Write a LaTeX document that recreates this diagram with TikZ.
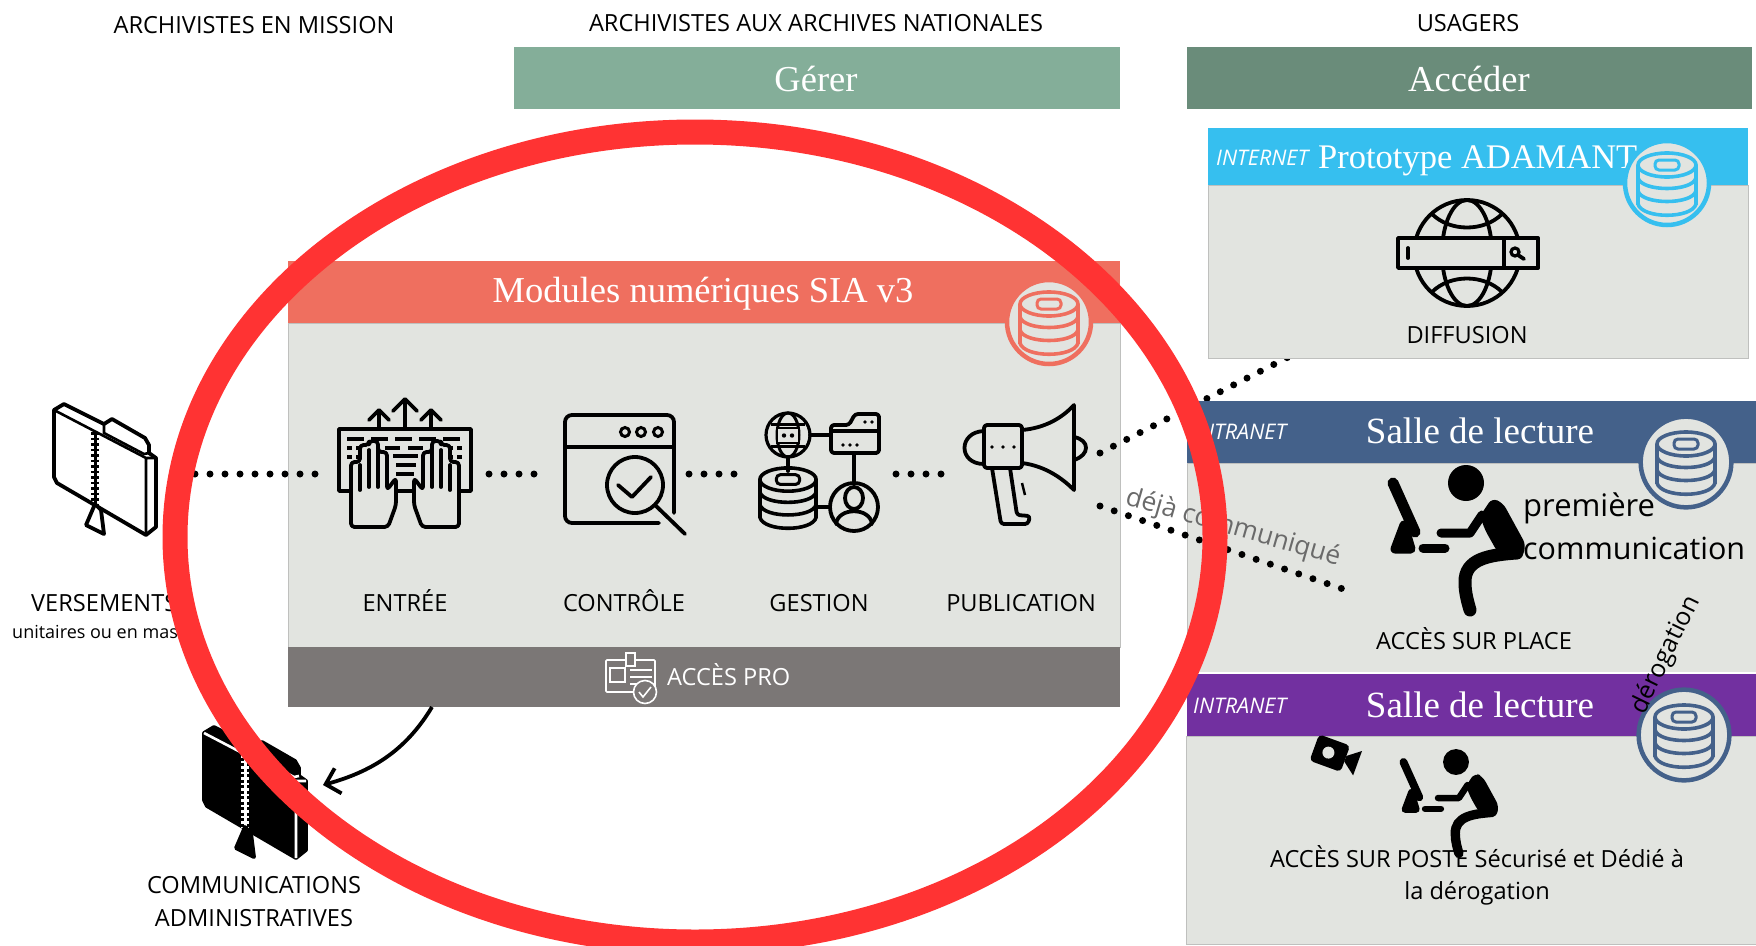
\documentclass[tikz,border=0pt]{standalone}
\usepackage{fontspec}
\setmainfont{Open Sans}
\newfontfamily\titlefont{Liberation Serif}
\usetikzlibrary{arrows.meta}

\definecolor{panelgray}{HTML}{E2E4E0}
\definecolor{panelline}{HTML}{BFC0BE}
\definecolor{gerergreen}{HTML}{84AE99}
\definecolor{accedergreen}{HTML}{6A8C7A}
\definecolor{salmon}{HTML}{EF6F5F}
\definecolor{skyband}{HTML}{36BFEF}
\definecolor{slateband}{HTML}{44618A}
\definecolor{purpleband}{HTML}{7230A0}
\definecolor{proband}{HTML}{7B7776}
\definecolor{ringred}{HTML}{FF3333}
\definecolor{notegray}{HTML}{6A6A6A}

\def\fsize#1{\fontsize{#1}{#1}\selectfont}

\tikzset{
    label/.style={inner sep=0pt, text=black, font=\fsize{23.6}, text height=17pt, text depth=0pt},
    title/.style={inner sep=0pt, text=white, font=\titlefont\fsize{36.5}},
    zone/.style={inner sep=0pt, text=white, font=\itshape\fsize{21.5}},
    icon/.style={line width=3.8pt, line join=round, line cap=round},
    dots/.style={line width=7pt, line cap=round, dash pattern=on 0pt off 15pt},
    pics/dbstack/.style={code={
        \draw[line width=3.6pt, #1, rounded corners=1pt] (-29,-18) -- (-29,22) (29,-18) -- (29,22);
        \draw[line width=3.6pt, #1] (0,-18) ellipse [x radius=29, y radius=12];
        \draw[line width=3pt, #1, rounded corners=4pt] (-12,-23) rectangle (12,-13);
        \draw[line width=3.6pt, #1] (-29,-5) .. controls (-25,9) and (25,9) .. (29,-5);
        \draw[line width=3.6pt, #1] (-29,8) .. controls (-25,22) and (25,22) .. (29,8);
        \draw[line width=3.6pt, #1] (-29,21) .. controls (-25,36) and (25,36) .. (29,21);
    }},
    pics/dbbadge/.style={code={
        \draw[line width=4.5pt, #1, fill=panelgray] (0,0) circle [radius=42];
        \pic {dbstack=#1};
    }},
    pics/zipfolder/.style 2 args={code={
        \draw[icon, fill=#1] (-46,-60) -- (-36,-66) -- (4,-46) -- (12,-51) -- (45,-32) -- (49,-25) -- (49,-17) -- (56,-12) -- (56,57) -- (46,65) -- (-43,13) -- (-46,7) -- cycle;
        \draw[#2, line width=2.6pt] (-46,-60) -- (46,-12) -- (46,65) (46,-12) -- (56,-12);
        \draw[#2, line width=2.6pt] (4,-46) -- (4,-37) -- (44,-16) -- (49,-17);
        \draw[#2, line width=3pt] (-5,-38) -- (-5,34);
        \draw[#2, line width=7.5pt, dash pattern=on 2.5pt off 3pt] (-5,-38) -- (-5,34);
        \draw[icon, fill=#1] (-5,34) -- (-14,55) -- (4,64) -- (1,40) -- cycle;
    }},
    pics/handicon/.style={code={
        \draw[icon, fill=panelgray, rounded corners=3.5pt] (-54,527) -- (-54,462) -- (-45,462) -- (-45,445) -- (-36,445) -- (-36,441) -- (-27,441) -- (-27,452) -- (-18,452) -- (-18,490) -- (-9,478) -- (-9,505) -- (-17,527) -- cycle;
        \draw[icon] (-45,465) -- (-45,490) (-36,450) -- (-36,487) (-27,450) -- (-27,487);
    }},
    pics/reader/.style={code={
        \begin{scope}[scale=#1]
            \fill (0,0) circle [radius=18];
            \draw[line width=#1*11pt, line cap=round] (-73,0) -- (-51,49);
            \draw[line width=#1*9pt, line cap=round, line join=round, fill=black] (-62,42) -- (-71,66) -- (-55,66) -- cycle;
            \draw[line width=#1*9pt, line cap=round] (-43,65) -- (-21,65);
            \draw[line width=#1*9pt, line cap=round, line join=round] (-25,50) -- (4,50) -- (16,32);
            \fill[rounded corners=6pt] (14,33) -- (26,15) -- (37,20) -- (60,62) -- (55,78) -- (32,70) -- (19,47) -- cycle;
            \draw[line width=#1*13pt, line cap=round] (50,70) .. controls (25,72) and (-2,75) .. (-1,100) .. controls (-1,110) and (2,120) .. (4,127);
        \end{scope}
    }}
}

\begin{document}
\begin{tikzpicture}[x=1pt, y=-1pt]
    \useasboundingbox (0,0) rectangle (1756,945);

    \node[label] (missionhead) at (254,25) {ARCHIVISTES EN MISSION};
    \node[label] (nationalhead) at (816,23) {ARCHIVISTES AUX ARCHIVES NATIONALES};
    \node[label] (usagershead) at (1468,23) {USAGERS};

    \fill[gerergreen] (514,47) rectangle (1120,109);
    \node[title] (gerer) at (816,79) {Gérer};
    \fill[accedergreen] (1187,47) rectangle (1752,109);
    \node[title] (acceder) at (1469,79) {Accéder};

    % modules
    \filldraw[panelgray, draw=panelline] (288,323) rectangle (1120,647);
    \fill[salmon] (288,261) rectangle (1120,323);
    \fill[proband] (288,647) rectangle (1120,707);
    \node[title] (modules) at (703,294) {Modules numériques SIA v3};
    \pic (dbmodules) at (1049,322) {dbbadge=salmon};

    % keyboard
    \draw[icon, fill=panelgray] (339,429) rectangle (471,491);
    \draw[icon] (405,429) -- (405,400) (393,411) -- (405,399) -- (417,411);
    \draw[icon] (379,429) -- (379,411) (369,420) -- (379,410) -- (389,420);
    \draw[icon] (431,429) -- (431,411) (421,420) -- (431,410) -- (441,420);
    \draw[line width=3.2pt, dash pattern=on 17pt off 7pt] (347,439) -- (463,439);
    \draw[line width=3.2pt, dash pattern=on 15pt off 8pt] (385,448) -- (425,448);
    \draw[line width=3.2pt, dash pattern=on 5pt off 4pt] (347,448) -- (362,448) (448,448) -- (463,448);
    \draw[line width=3.2pt, dash pattern=on 5pt off 4pt] (347,457) -- (362,457) (448,457) -- (463,457);
    \draw[line width=3.2pt] (393,456) -- (418,456) (396,465) -- (416,465) (396,474) -- (414,474);
    \pic (lefthand) at (405,0) {handicon};
    \pic[xscale=-1] (righthand) at (405,0) {handicon};

    % window
    \draw[icon, rounded corners=7pt] (659,523) -- (565,523) -- (565,415) -- (674,415) -- (674,513);
    \draw[icon] (565,447) -- (674,447);
    \foreach \x in {625,641,658}
        \draw[line width=3pt] (\x,432) circle [radius=4.5];
    \draw[icon, fill=panelgray] (635,485) circle [radius=28];
    \draw[icon] (655,505) -- (685,534);
    \draw[icon] (618,485) -- (632,497) -- (651,477);

    % gestion
    \draw[line width=3.2pt] (788,435) circle [radius=22];
    \draw[line width=3pt] (788,435) ellipse [x radius=11, y radius=22];
    \draw[line width=3pt] (771,424) -- (805,424) (771,446) -- (805,446);
    \fill[panelgray] (777,428) rectangle (799,443);
    \draw[line width=2.6pt] (777,428) rectangle (799,443);
    \foreach \x in {784,792}
        \fill (\x,435.5) circle [radius=2.2];
    \draw[icon, fill=panelgray, rounded corners=3pt] (831,453) -- (831,425) -- (849,425) -- (855,414) -- (879,414) -- (879,453) -- cycle;
    \draw[icon] (831,431) -- (879,431);
    \foreach \x in {843,850,857}
        \fill (\x,445) circle [radius=1.8];
    \foreach \x in {865,872}
        \fill (\x,422) circle [radius=1.8];
    \draw[icon] (810,435) -- (831,435) (788,457) -- (788,471) (854,453) -- (854,483) (817,507) -- (830,507);
    \pic[scale=0.97] (dbgestion) at (788,497) {dbstack=black};
    \draw[icon] (854,507) circle [radius=24];
    \draw[icon] (854,498) ellipse [x radius=9, y radius=11];
    \draw[icon] (836,524) .. controls (838,507) and (870,507) .. (872,524);

    % megaphone
    \draw[icon] (1074,437) .. controls (1090,440) and (1090,455) .. (1074,460);
    \draw[icon] (984,431) .. controls (958,432) and (958,464) .. (984,464);
    \draw[icon, fill=panelgray, rounded corners=3pt] (992,468) -- (1001,524) -- (1028,524) -- (1030,516) -- (1017,515) -- (1010,468);
    \draw[icon] (1022,430) .. controls (1045,428) and (1062,418) .. (1074,405) -- (1074,490) .. controls (1062,478) and (1045,466) .. (1022,463);
    \draw[icon, rounded corners=3pt] (984,425) rectangle (1022,468);
    \fill (992,447) circle [radius=1.8] (1003,447) circle [radius=1.8] (1014,447) circle [radius=1.8];
    \draw[line width=2.5pt] (1022,483) -- (1025,495);

    % dots inside
    \coordinate (versdots) at (195,474);
    \coordinate (entreeleft) at (316,474);
    \coordinate (entreeright) at (489,474);
    \coordinate (controleleft) at (535,474);
    \coordinate (controleright) at (689,474);
    \coordinate (gestionleft) at (735,474);
    \coordinate (gestionright) at (896,474);
    \coordinate (pubright) at (942,474);
    \draw[dots] (versdots) -- (entreeleft);
    \draw[dots] (entreeright) -- (controleleft);
    \draw[dots] (controleright) -- (gestionleft);
    \draw[dots] (gestionright) -- (pubright);

    \node[label] (entree) at (405,603) {ENTRÉE};
    \node[label] (controle) at (624,603) {CONTRÔLE};
    \node[label] (gestion) at (819,603) {GESTION};
    \node[label] (publication) at (1021,603) {PUBLICATION};

    % acces pro
    \draw[white, line width=1.6pt, rounded corners=1pt] (606,660) rectangle (655,692);
    \draw[white, line width=1.6pt, fill=proband] (626,653) rectangle (635,666);
    \draw[white, line width=1.4pt] (610,668) rectangle (625,682);
    \draw[white, line width=1.4pt] (630,670) -- (652,670) (630,677) -- (652,677) (630,684) -- (640,684);
    \draw[white, line width=1.6pt, fill=proband] (645,692) circle [radius=11.5];
    \draw[white, line width=1.6pt] (639,692) -- (643,697) -- (651,687);
    \node[label, text=white, anchor=west] (accespro) at (667,677) {ACCÈS PRO};

    % left
    \pic (versement) at (100,470) {zipfolder={white}{black}};
    \node[label, anchor=west] (versements) at (31,603) {VERSEMENTS};
    \node[inner sep=0pt, font=\fsize{18}, anchor=west] (unitaires) at (12,632) {unitaires ou en masse};
    \pic (communication) at (250,793) {zipfolder={black}{white}};
    \node[label] (commun) at (254,885) {COMMUNICATIONS};
    \node[label] (admin) at (254,918) {ADMINISTRATIVES};
    \coordinate (arrowstart) at (432,707);
    \coordinate (arrowend) at (323,785);
    \draw[line width=3.8pt, -{Straight Barb[length=13pt, width=26pt]}] (arrowstart) .. controls (405,752) and (370,772) .. (arrowend);

    % dots behind the right column
    \coordinate (pubup) at (1100,453);
    \coordinate (diffend) at (1310,346);
    \draw[dots] (pubup) -- (diffend);

    % internet
    \filldraw[panelgray, draw=panelline] (1208,185) rectangle (1748,358);
    \fill[skyband] (1208,128) rectangle (1748,185);
    \node[zone, anchor=west] (internet) at (1216,158) {INTERNET};
    \node[title, font=\titlefont\fsize{34.5}, anchor=west] (prototype) at (1318,161) {Prototype ADAMANT};
    \pic (dbinternet) at (1667,183) {dbbadge=skyband};
    \draw[icon] (1467,253) circle [radius=53];
    \draw[icon] (1467,253) ellipse [x radius=25, y radius=53];
    \draw[icon] (1432,214) .. controls (1450,232) and (1484,232) .. (1502,214);
    \draw[icon] (1432,292) .. controls (1450,274) and (1484,274) .. (1502,292);
    \draw[icon, fill=panelgray, line cap=butt] (1398,238) rectangle (1538,268);
    \draw[icon] (1504,238) -- (1504,268);
    \draw[icon] (1408,248) -- (1408,258);
    \draw[line width=3.2pt] (1515,252) circle [radius=4];
    \draw[icon] (1518,255) -- (1524,259);
    \node[label] (diffusion) at (1467,335) {DIFFUSION};

    % salle 1
    \filldraw[panelgray, draw=panelline] (1187,463) rectangle (1756,672);
    \fill[slateband] (1187,401) rectangle (1756,463);
    \node[zone, anchor=west] (intranetone) at (1193,432) {INTRANET};
    \node[title, font=\titlefont\fsize{37}] (salleone) at (1480,431) {Salle de lecture};
    \pic[scale=1.08] (dbsalleone) at (1686,462) {dbbadge=slateband};
    \pic (readerone) at (1466,483) {reader=1};
    \node[inner sep=0pt, font=\fsize{31}, anchor=west] (premiere) at (1523,508) {première};
    \node[inner sep=0pt, font=\fsize{30.5}, anchor=west] (premcomm) at (1523,548) {communication};
    \node[label] (surplace) at (1474,641) {ACCÈS SUR PLACE};

    % salle 2
    \fill[white] (1187,672) rectangle (1756,674);
    \filldraw[panelgray, draw=panelline] (1186,736) rectangle (1760,944);
    \fill[purpleband] (1187,674) rectangle (1756,736);
    \node[zone, anchor=west] (intranettwo) at (1193,706) {INTRANET};
    \node[title, font=\titlefont\fsize{37}] (salletwo) at (1480,705) {Salle de lecture};
    \pic[scale=1.08] (dbsalletwo) at (1684,735) {dbbadge=slateband};
    \begin{scope}[shift={(1335,755)}, rotate=-20]
        \fill[rounded corners=4pt] (-22,-14) rectangle (11,14);
        \fill[panelgray] (-7,0) circle [radius=6];
        \fill (11,-3) -- (24,-13) -- (24,13) -- (11,3) -- cycle;
    \end{scope}
    \pic (readertwo) at (1456,762) {reader=0.72};
    \node[label] (surposte) at (1477,859) {ACCÈS SUR POSTE Sécurisé et Dédié à};
    \node[label] (laderog) at (1477,891) {la dérogation};

    % notes
    \coordinate (pubdown) at (1100,506);
    \coordinate (placeend) at (1343,589);
    \draw[dots] (pubdown) -- (placeend);
    \node[inner sep=0pt, font=\fsize{26.3}, text=notegray, rotate=-16] (dejacomm) at (1233,528) {déjà communiqué};
    \node[inner sep=0pt, font=\fsize{25}, rotate=64] (derog) at (1666,655) {dérogation};

    % ring
    \coordinate (ringcentre) at (695,537);
    \draw[ringred, line width=25pt] (ringcentre) ellipse [x radius=520, y radius=405];
\end{tikzpicture}
\end{document}
